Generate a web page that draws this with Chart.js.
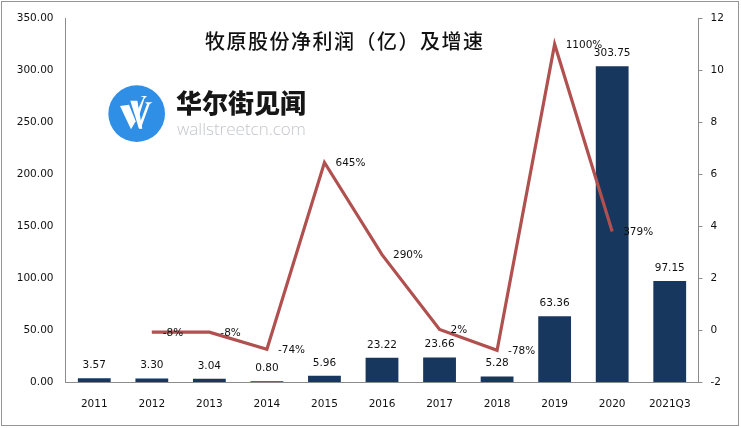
<!DOCTYPE html>
<html>
<head>
<meta charset="utf-8">
<script src="https://cdn.jsdelivr.net/npm/chart.js@4/dist/chart.umd.min.js"></script>
<style>
  html, body { margin: 0; padding: 0; background: #fff; }
  #wrap { position: relative; width: 741px; height: 428px; overflow: hidden; }
  #frame { position: absolute; left: 1px; top: 1px; width: 736px; height: 423px; border: 1.5px solid #949494; }
  #chart { position: absolute; left: 0; top: 0; }
  #title { position: absolute; left: 205px; top: 26px; font: 500 20px "Noto Sans CJK SC"; letter-spacing: 1.5px; color: #111; white-space: nowrap; }
  #logo { position: absolute; left: 105px; top: 82px; }
  #logoCn { position: absolute; left: 176px; top: 85px; font: 900 26px/34px "Noto Sans CJK SC"; color: #161616; white-space: nowrap; }
  #logoEn { position: absolute; left: 177px; top: 118px; font: 300 17px/22px "Open Sans"; color: #c4c6ca; white-space: nowrap; }
</style>
</head>
<body>
<div id="wrap">
  <div id="frame"></div>
  <canvas id="chart" width="741" height="428"></canvas>
  <div id="title">牧原股份净利润（亿）及增速</div>
  <svg id="logo" width="65" height="64" viewBox="0 0 195 192">
    <circle cx="95" cy="95" r="85" fill="#2f8fe6"/>
    <polygon points="45,72 72,68 92,118 78,142" fill="#fff"/>
    <polygon points="76,56 97,56 112,140 102,140" fill="#fff"/>
    <polygon points="100,135 126,66 120,61 143,61 134,66 107,140" fill="#fff"/>
    <polygon points="97,86 116,46 106,42 126,42 118,50 100,108" fill="#fff"/>
  </svg>
  <div id="logoCn">华尔街见闻</div>
  <div id="logoEn">wallstreetcn.com</div>
</div>
<script>
const years = ["2011", "2012", "2013", "2014", "2015", "2016", "2017", "2018", "2019", "2020", "2021Q3"];
const profit = [3.57, 3.3, 3.04, 0.8, 5.96, 23.22, 23.66, 5.28, 63.36, 303.75, 97.15];
const growth = [null, -0.08, -0.08, -0.74, 6.45, 2.9, 0.02, -0.78, 11, 3.79, null];
const growthText = ["", "-8%", "-8%", "-74%", "645%", "290%", "2%", "-78%", "1100%", "379%", ""];

const axisGrey = "#8c8c8c";
const textColor = "#111";
const labelFont = '10.5px "DejaVu Sans"';

// 막대 위 값, 선 오른쪽 증가율 라벨
const valueLabels = {
  id: "valueLabels",
  afterDatasetsDraw(chart) {
    const ctx = chart.ctx;
    const bars = chart.getDatasetMeta(1).data;
    const points = chart.getDatasetMeta(0).data;
    ctx.save();
    ctx.font = labelFont;
    ctx.fillStyle = textColor;
    ctx.textBaseline = "middle";
    ctx.textAlign = "center";
    bars.forEach((bar, i) => {
      ctx.fillText(profit[i].toFixed(2), bar.x, bar.y - 13);
    });
    ctx.textAlign = "left";
    points.forEach((pt, i) => {
      if (growth[i] === null) return;
      ctx.fillText(growthText[i], pt.x + 11, pt.y + 1);
    });
    ctx.restore();
  },
};

new Chart(document.getElementById("chart"), {
  data: {
    labels: years,
    datasets: [
      {
        type: "line",
        data: growth,
        yAxisID: "y2",
        borderColor: "#b0504f",
        borderWidth: 3.2,
        pointRadius: 0,
        tension: 0,
        spanGaps: false,
        order: 1,
      },
      {
        type: "bar",
        data: profit,
        yAxisID: "y",
        backgroundColor: "#17375e",
        categoryPercentage: 1,
        barPercentage: 0.57,
        order: 2,
      },
    ],
  },
  options: {
    responsive: false,
    animation: false,
    devicePixelRatio: 1,
    layout: { padding: { top: 15, bottom: 0, left: 0, right: 0 } },
    plugins: { legend: { display: false }, tooltip: { enabled: false } },
    scales: {
      x: {
        afterFit(scale) { scale.height = 46; },
        grid: { display: false },
        border: { color: axisGrey },
        ticks: { color: textColor, font: { family: "DejaVu Sans", size: 10.5 }, padding: 8, maxRotation: 0, autoSkip: false },
      },
      y: {
        position: "left",
        min: 0,
        max: 350,
        afterFit(scale) { scale.width = 65.5; },
        grid: { display: false, drawTicks: false },
        border: { color: axisGrey },
        ticks: { stepSize: 50, color: textColor, font: { family: "DejaVu Sans", size: 10.5 }, padding: 12, callback: (v) => v.toFixed(2) },
      },
      y2: {
        position: "right",
        min: -2,
        max: 12,
        afterFit(scale) { scale.width = 42.5; },
        grid: { drawOnChartArea: false, drawTicks: true, tickLength: 4, color: axisGrey },
        border: { color: axisGrey },
        ticks: { stepSize: 2, color: textColor, font: { family: "DejaVu Sans", size: 10.5 }, padding: 8 },
      },
    },
  },
  plugins: [valueLabels],
});
</script>
</body>
</html>
